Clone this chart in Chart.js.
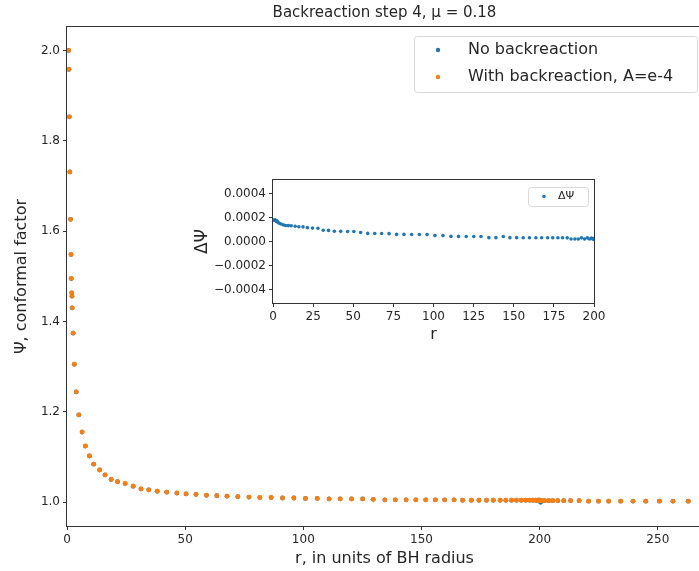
<!DOCTYPE html>
<html>
<head>
<meta charset="utf-8">
<script src="https://cdn.jsdelivr.net/npm/chart.js@4.4.0/dist/chart.umd.min.js"></script>
<style>
  html, body { margin: 0; padding: 0; background: #fff; overflow: hidden; }
  #wrap { position: relative; width: 699px; height: 571px; overflow: hidden; }
  #mainChart { position: absolute; left: 0; top: 0; }
  #insetChart { position: absolute; left: 190px; top: 170px; }
</style>
</head>
<body>
<div id="wrap">
  <canvas id="mainChart" width="706" height="571"></canvas>
  <canvas id="insetChart" width="420" height="175"></canvas>
</div>
<script>
const FONT = "'DejaVu Sans', sans-serif";
const BLUE = '#1f77b4';
const ORANGE = '#ff7f0e';
const INK = '#262626';

// radial grid points (units of BH radius)
const r = [
  0.7, 0.8, 1.0, 1.2, 1.5, 1.7, 1.8, 2.0, 2.1, 2.2,
  2.6, 3.1, 3.9, 5.0, 6.4, 7.8, 9.5, 11.3, 13.8, 16.1,
  18.7, 21.4, 24.6, 28.0, 31.3, 34.6, 38.2, 42.2, 46.5, 50.4,
  54.6, 59.0, 63.4, 67.7, 72.3, 77.0, 81.6, 86.4, 91.2, 96.0,
  100.9, 105.9, 110.9, 115.6, 120.4, 125.1, 129.6, 134.5, 138.9, 143.5,
  147.6, 151.8, 155.9, 159.8, 163.8, 167.4, 171.1, 174.3, 177.5, 180.4,
  183.3, 185.7, 188.1, 190.2, 192.2, 194.1, 195.8, 197.2, 198.4, 199.2,
  199.7, 200.0, 200.4, 200.8, 202.1, 203.9, 205.6, 207.7, 210.2, 213.1,
  216.7, 220.7, 224.9, 229.2, 234.3, 239.5, 244.9, 250.7, 256.4, 262.9
];

// conformal factor without backreaction
const psiNoBackreaction = [
  2.000, 1.958, 1.853, 1.731, 1.626, 1.548, 1.495, 1.463, 1.456, 1.430,
  1.374, 1.305, 1.244, 1.193, 1.155, 1.124, 1.102, 1.084, 1.071, 1.060,
  1.050, 1.045, 1.041, 1.035, 1.029, 1.027, 1.024, 1.022, 1.020, 1.018,
  1.017, 1.015, 1.014, 1.013, 1.012, 1.011, 1.010, 1.010, 1.009, 1.009,
  1.008, 1.008, 1.007, 1.007, 1.007, 1.007, 1.006, 1.005, 1.005, 1.005,
  1.005, 1.005, 1.005, 1.005, 1.005, 1.004, 1.004, 1.004, 1.004, 1.004,
  1.004, 1.004, 1.004, 1.004, 1.004, 1.004, 1.004, 1.004, 1.004, 1.004,
  1.004, 1.004, 0.9995, 1.003, 1.003, 1.003, 1.003, 1.003, 1.003, 1.003,
  1.003, 1.002, 1.002, 1.002, 1.002, 1.002, 1.002, 1.002, 1.002, 1.002
];

// change of the conformal factor from the backreaction
const deltaPsi = [
  0.000180, 0.000180, 0.000179, 0.000178, 0.000177, 0.000175, 0.000174, 0.000172, 0.000171, 0.000169,
  0.000166, 0.000160, 0.000152, 0.000146, 0.000139, 0.000134, 0.000133, 0.000132, 0.000128, 0.000123,
  0.000122, 0.000116, 0.000112, 0.000111, 0.000094, 0.000093, 0.000086, 0.000085, 0.000084, 0.000084,
  0.000075, 0.000068, 0.000067, 0.000067, 0.000066, 0.000060, 0.000060, 0.000059, 0.000059, 0.000058,
  0.000050, 0.000050, 0.000043, 0.000043, 0.000042, 0.000042, 0.000042, 0.000033, 0.000033, 0.000042,
  0.000033, 0.000033, 0.000032, 0.000032, 0.000032, 0.000032, 0.000032, 0.000032, 0.000032, 0.000032,
  0.000031, 0.000022, 0.000022, 0.000022, 0.000031, 0.000022, 0.000031, 0.000022, 0.000030, 0.000022,
  0.000025, 0.000020, 0.003500, 0.000020, 0.000020, 0.000020, 0.000020, 0.000019, 0.000019, 0.000019,
  0.000018, 0.000018, 0.000018, 0.000017, 0.000017, 0.000017, 0.000016, 0.000016, 0.000016, 0.000015
];

const psiWithBackreaction = psiNoBackreaction.map((v, i) => v + deltaPsi[i]);

const mainXTicks = [0, 50, 100, 150, 200, 250];
const mainYTicks = [1.0, 1.2, 1.4, 1.6, 1.8, 2.0];
const insetXTicks = [0, 25, 50, 75, 100, 125, 150, 175, 200];
const insetYTicks = [-0.0004, -0.0002, 0, 0.0002, 0.0004];

function points(ys) {
  return r.map((x, i) => ({x: x, y: ys[i]}));
}

function fixedTicks(values) {
  return function(scale) {
    scale.ticks = values.map(v => ({value: v}));
  };
}

// axes frame on top of the markers
const framePlugin = {
  id: 'frame',
  afterDatasetsDraw(chart) {
    const {left, top, right, bottom} = chart.chartArea;
    const ctx = chart.ctx;
    ctx.save();
    ctx.strokeStyle = '#333';
    ctx.lineWidth = 1;
    ctx.strokeRect(Math.round(left) - 0.5, Math.round(top) - 0.5,
      Math.round(right - left) + 1, Math.round(bottom - top) + 1);
    ctx.restore();
  }
};

// white background for the plotting area
const areaFill = {
  id: 'areaFill',
  beforeDraw(chart) {
    const {left, top, right, bottom} = chart.chartArea;
    chart.ctx.save();
    chart.ctx.fillStyle = '#fff';
    chart.ctx.fillRect(left, top, right - left, bottom - top);
    chart.ctx.restore();
  }
};

// framed legend box with round markers
const boxLegend = {
  id: 'boxLegend',
  afterDraw(chart, args, opts) {
    const ctx = chart.ctx;
    const b = opts.box;
    ctx.save();
    ctx.beginPath();
    ctx.roundRect(b.x + 0.5, b.y + 0.5, b.w, b.h, 3);
    ctx.fillStyle = 'rgba(255,255,255,0.8)';
    ctx.fill();
    ctx.strokeStyle = '#d9d9d9';
    ctx.lineWidth = 1;
    ctx.stroke();
    ctx.font = opts.font;
    ctx.textBaseline = 'middle';
    ctx.textAlign = 'left';
    chart.data.datasets.forEach((ds, i) => {
      const y = opts.rows[i];
      ctx.beginPath();
      ctx.arc(opts.markerX, y, opts.markerR, 0, Math.PI * 2);
      ctx.fillStyle = ds.backgroundColor;
      ctx.fill();
      ctx.fillStyle = INK;
      ctx.fillText(ds.label, opts.textX, y);
    });
    ctx.restore();
  }
};

function axisStyle(size) {
  return {
    grid: {drawOnChartArea: false, drawTicks: true, tickLength: 4, tickColor: '#333', color: '#333'},
    border: {display: false},
    ticks: {color: INK, font: {family: FONT, size: size}, maxRotation: 0, autoSkip: false}
  };
}

const mainX = axisStyle(12);
const mainY = axisStyle(12);
const insetX = axisStyle(12);
const insetY = axisStyle(12);
mainY.ticks.callback = v => v.toFixed(1);

new Chart(document.getElementById('mainChart'), {
  type: 'scatter',
  data: {
    datasets: [
      // higher order is painted first, so the orange series sits on top
      {label: 'No backreaction', data: points(psiNoBackreaction), backgroundColor: BLUE,
       pointRadius: 2.4, pointBorderWidth: 0, clip: false, order: 1},
      {label: 'With backreaction, A=e-4', data: points(psiWithBackreaction), backgroundColor: ORANGE,
       pointRadius: 2.4, pointBorderWidth: 0, clip: false, order: 0}
    ]
  },
  options: {
    responsive: false,
    animation: false,
    events: [],
    layout: {padding: {right: 3}},
    plugins: {
      legend: {display: false},
      tooltip: {enabled: false},
      title: {
        display: true, fullSize: false,
        text: 'Backreaction step 4, \u03bc = 0.18',
        color: INK, font: {family: FONT, size: 15, weight: 'normal'},
        padding: {top: 4, bottom: 5}
      },
      boxLegend: {
        box: {x: 414, y: 36, w: 283, h: 56},
        font: '16px ' + FONT,
        rows: [50, 77], markerX: 438, markerR: 2.2, textX: 468
      }
    },
    scales: {
      x: Object.assign(mainX, {
        type: 'linear', min: 0, max: 268.7,
        afterBuildTicks: fixedTicks(mainXTicks),
        afterFit: s => { s.height = 45; },
        title: {display: true, text: 'r, in units of BH radius', color: INK,
                font: {family: FONT, size: 16}, padding: {top: 0, bottom: 3}}
      }),
      y: Object.assign(mainY, {
        type: 'linear', min: 0.947, max: 2.052,
        afterBuildTicks: fixedTicks(mainYTicks),
        afterFit: s => { s.width = 67; },
        title: {display: true, text: '\u03a8, conformal factor', color: INK,
                font: {family: FONT, size: 16}, padding: {top: 12, bottom: 0}}
      })
    }
  },
  plugins: [framePlugin, boxLegend]
});

new Chart(document.getElementById('insetChart'), {
  type: 'scatter',
  data: {
    datasets: [
      {label: '\u0394\u03a8', data: points(deltaPsi), backgroundColor: BLUE,
       pointRadius: 1.8, pointBorderWidth: 0, clip: {left: 3, right: 1, top: 0, bottom: 0}}
    ]
  },
  options: {
    responsive: false,
    animation: false,
    events: [],
    layout: {padding: {top: 6, right: 16}},
    plugins: {
      legend: {display: false},
      tooltip: {enabled: false},
      boxLegend: {
        box: {x: 338, y: 17, w: 60, h: 19},
        font: '11px ' + FONT,
        rows: [26.5], markerX: 354, markerR: 1.8, textX: 368
      }
    },
    scales: {
      x: Object.assign(insetX, {
        type: 'linear', min: 0, max: 200,
        afterBuildTicks: fixedTicks(insetXTicks),
        afterFit: s => { s.height = 42; },
        title: {display: true, text: 'r', color: INK,
                font: {family: FONT, size: 16}, padding: {top: 0, bottom: 1}}
      }),
      y: Object.assign(insetY, {
        type: 'linear', min: -0.00051, max: 0.00051,
        afterBuildTicks: fixedTicks(insetYTicks),
        afterFit: s => { s.width = 83; },
        ticks: Object.assign(insetY.ticks, {
          callback: v => (v < 0 ? '\u2212' : '') + Math.abs(v).toFixed(4)
        }),
        title: {display: true, text: '\u0394\u03a8', color: INK,
                font: {family: FONT, size: 17}, padding: {top: 2, bottom: 0}}
      })
    }
  },
  plugins: [areaFill, framePlugin, boxLegend]
});
</script>
</body>
</html>
